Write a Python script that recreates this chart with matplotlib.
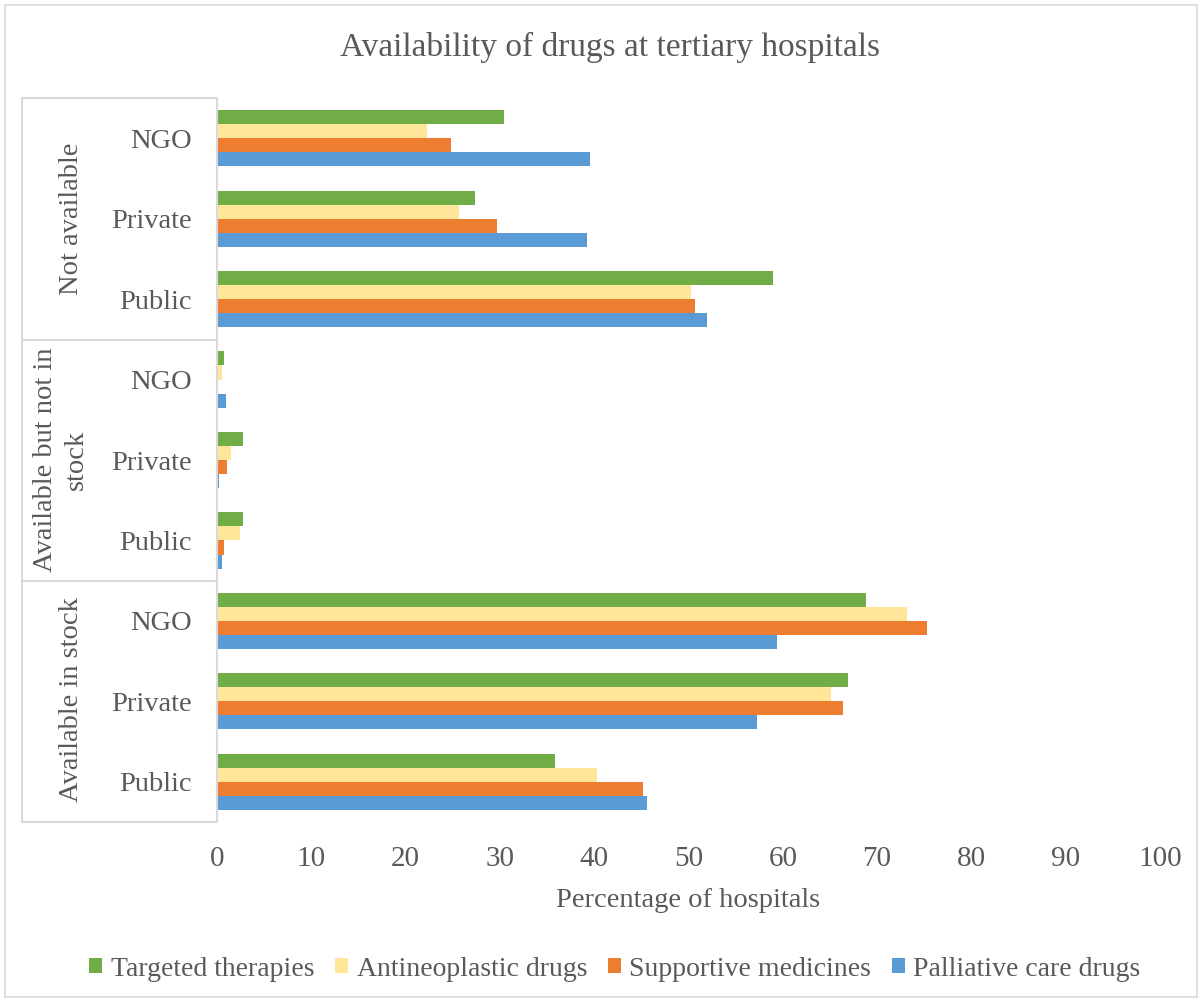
import matplotlib
matplotlib.use("Agg")
import matplotlib.pyplot as plt
from matplotlib.lines import Line2D
from matplotlib.patches import Rectangle
import numpy as np

plt.rcParams['font.family'] = ['Liberation Serif', 'DejaVu Serif']

# hospital type within each availability group (bottom to top)
categories = ["Public", "Private", "NGO",
              "Public", "Private", "NGO",
              "Public", "Private", "NGO"]
groups = ["Available in stock", "Available but not in\nstock", "Not available"]

series_names = ["Palliative care drugs", "Supportive medicines",
                "Antineoplastic drugs", "Targeted therapies"]
series_colors = ["#5B9BD5", "#ED7D31", "#FFE699", "#70AD47"]

palliative = [45.6, 57.3, 59.4, 0.5, 0.2, 1.0, 52.0, 39.2, 39.6]
supportive = [45.2, 66.4, 75.3, 0.7, 1.1, 0.0, 50.7, 29.7, 24.8]
antineoplastic = [40.3, 65.1, 73.2, 2.4, 1.5, 0.5, 50.3, 25.7, 22.3]
targeted = [35.8, 66.9, 68.8, 2.8, 2.8, 0.7, 59.0, 27.4, 30.4]

series = [palliative, supportive, antineoplastic, targeted]

W, H = 1204, 1000
fig = plt.figure(figsize=(W / 100, H / 100), dpi=100)

ax_left, ax_right, ax_top, ax_bottom = 217, 1160, 98, 822
ax = fig.add_axes([ax_left / W, 1 - ax_bottom / H,
                   (ax_right - ax_left) / W, (ax_bottom - ax_top) / H])

y = np.arange(len(categories))
h = 0.175
for i, (vals, color, name) in enumerate(zip(series, series_colors, series_names)):
    ax.barh(y + (i - 1.5) * h, vals, height=h, color=color, label=name)

text_color = "#595959"
ax.set_xlim(0, 100)
ax.set_ylim(-0.5, len(categories) - 0.5)
ax.set_xticks(np.arange(0, 101, 10))
ax.set_yticks(y)
ax.set_yticklabels(categories)
ax.tick_params(axis="both", length=0, colors=text_color)
ax.tick_params(axis="y", pad=18, labelsize=20.5)
ax.tick_params(axis="x", pad=17, labelsize=21)
for side in ["top", "right", "bottom"]:
    ax.spines[side].set_visible(False)
ax.spines["left"].set_color("#d9d9d9")
ax.spines["left"].set_linewidth(1.5)

ax.set_xlabel("Percentage of hospitals", fontsize=20.5, color=text_color, labelpad=12)

# group separators on the category axis
def fy(py):
    return 1 - py / H

box_left = 22 / W
for py in [98, 339.7, 581.0, 822]:
    fig.add_artist(Line2D([box_left, ax_left / W], [fy(py), fy(py)],
                          color="#d9d9d9", lw=1.5))
fig.add_artist(Line2D([box_left, box_left], [fy(98), fy(822)],
                      color="#d9d9d9", lw=1.5))

group_pos = [(71, 700), (61, 460), (71, 219)]
for label, (px, py) in zip(groups, group_pos):
    fig.text(px / W, fy(py), label, rotation=90, ha="center", va="center",
             fontsize=20.5, color=text_color, linespacing=1.3)

fig.text(610 / W, fy(47), "Availability of drugs at tertiary hospitals",
         ha="center", va="center", fontsize=24, color=text_color)

# legend lists series top-down as drawn in each group
handles, labels = ax.get_legend_handles_labels()
leg = fig.legend(handles[::-1], labels[::-1], loc="center", ncol=4,
                 bbox_to_anchor=(615 / W, fy(969)), frameon=False,
                 fontsize=20, handlelength=0.47, handleheight=0.47,
                 handletextpad=0.3, columnspacing=0.75)
for t in leg.get_texts():
    t.set_color(text_color)

fig.add_artist(Rectangle((5 / W, fy(997)), 1192 / W, 992 / H, fill=False,
                         edgecolor="#d9d9d9", lw=1.2, transform=fig.transFigure))

fig.savefig("out.png", dpi=100)
